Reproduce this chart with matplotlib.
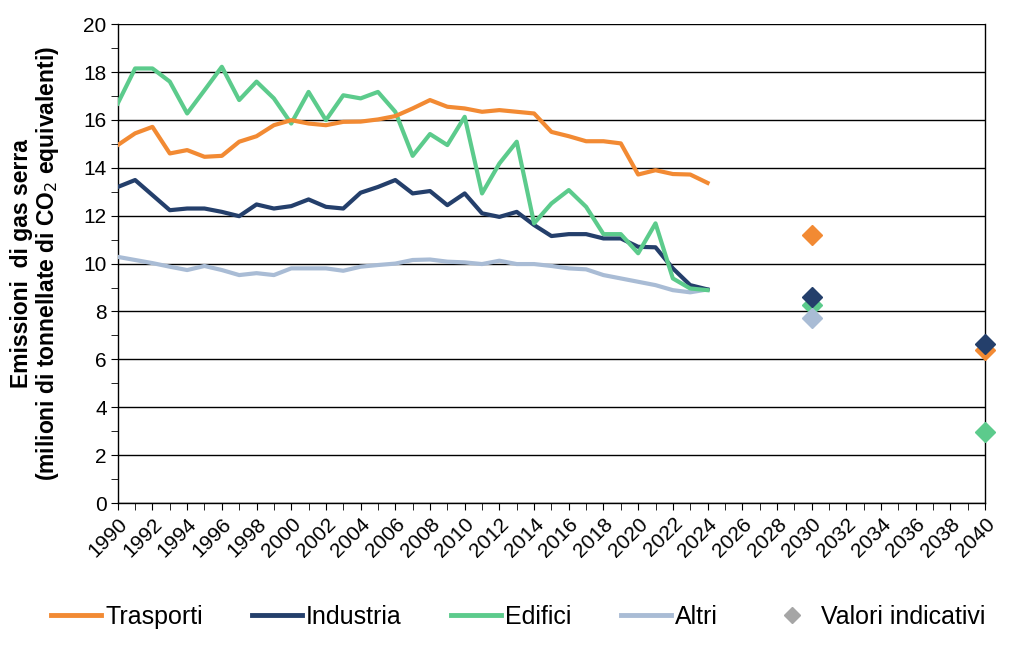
import matplotlib
matplotlib.use("Agg")
import matplotlib.pyplot as plt
from matplotlib.ticker import MultipleLocator
from matplotlib.lines import Line2D

plt.rcParams['font.family'] = ['Liberation Sans', 'DejaVu Sans']

years = list(range(1990, 2025))
trasporti = [14.95, 15.44, 15.71, 14.60, 14.74, 14.46, 14.50, 15.09, 15.32, 15.78,
             15.99, 15.85, 15.78, 15.92, 15.93, 16.02, 16.16, 16.48, 16.83, 16.55,
             16.48, 16.34, 16.41, 16.34, 16.27, 15.50, 15.32, 15.11, 15.11, 15.02,
             13.72, 13.90, 13.74, 13.72, 13.37]
industria = [13.20, 13.49, 12.86, 12.23, 12.30, 12.30, 12.16, 11.98, 12.47, 12.30,
             12.40, 12.68, 12.37, 12.30, 12.96, 13.20, 13.49, 12.93, 13.03, 12.44,
             12.93, 12.10, 11.95, 12.16, 11.61, 11.15, 11.23, 11.23, 11.05, 11.05,
             10.70, 10.68, 9.80, 9.10, 8.92]
edifici = [16.69, 18.15, 18.15, 17.60, 16.27, 17.24, 18.22, 16.83, 17.60, 16.90,
           15.85, 17.17, 15.99, 17.03, 16.90, 17.17, 16.34, 14.50, 15.41, 14.95,
           16.13, 12.93, 14.18, 15.09, 11.68, 12.51, 13.07, 12.37, 11.23, 11.23,
           10.43, 11.68, 9.38, 8.96, 8.89]
altri = [10.28, 10.15, 10.02, 9.87, 9.73, 9.90, 9.73, 9.52, 9.60, 9.52,
         9.80, 9.80, 9.80, 9.70, 9.87, 9.94, 10.00, 10.15, 10.17, 10.08,
         10.05, 9.98, 10.12, 9.98, 9.98, 9.90, 9.80, 9.76, 9.52, 9.38,
         9.24, 9.10, 8.89, 8.80, 8.92]

target_years = [2030, 2040]
trasporti_t = [11.19, 6.38]
industria_t = [8.61, 6.64]
edifici_t = [8.27, 2.98]
altri_t = [7.71, None]

c_tr = '#F28A33'
c_in = '#243F6B'
c_ed = '#5CCB8C'
c_al = '#A9BCD5'
c_gray = '#A6A6A6'

fig = plt.figure(figsize=(10.24, 6.53), dpi=100)
ax = fig.add_axes([0.115, 0.2297, 0.847, 0.7333])

lw = 3.0
ax.plot(years, altri, color=c_al, lw=lw, zorder=3)
ax.plot(years, industria, color=c_in, lw=lw, zorder=4)
ax.plot(years, edifici, color=c_ed, lw=lw, zorder=5)
ax.plot(years, trasporti, color=c_tr, lw=lw, zorder=6)

def diam(vals, color, z):
    xs = [y for y, v in zip(target_years, vals) if v is not None]
    vs = [v for v in vals if v is not None]
    ax.plot(xs, vs, linestyle='none', marker='D', markersize=10,
            color=color, zorder=z, clip_on=False)

diam(trasporti_t, c_tr, 7)
diam(edifici_t, c_ed, 8)
diam(altri_t, c_al, 9)
diam(industria_t, c_in, 10)

ax.set_xlim(1990, 2040)
ax.set_ylim(0, 20)
ax.xaxis.set_major_locator(MultipleLocator(2))
ax.xaxis.set_minor_locator(MultipleLocator(1))
ax.yaxis.set_major_locator(MultipleLocator(2))
ax.yaxis.set_minor_locator(MultipleLocator(1))
ax.grid(axis='y', which='major', color='black', lw=1.0, zorder=1)
ax.set_axisbelow(True)
for s in ['left', 'bottom', 'right', 'top']:
    ax.spines[s].set_color('black')
    ax.spines[s].set_linewidth(1.0)
ax.spines['top'].set_visible(False)

ax.tick_params(axis='both', which='both', direction='out', color='black')
ax.tick_params(axis='both', which='major', length=5, labelsize=15, pad=3)
ax.tick_params(axis='both', which='minor', length=5)
ax.tick_params(axis='x', labelsize=15)
for lab in ax.get_xticklabels():
    lab.set_rotation(45)
    lab.set_ha('right')
    lab.set_rotation_mode('anchor')

ax.set_ylabel('Emissioni  di gas serra\n(milioni di tonnellate di CO$_2$ equivalenti)',
              fontsize=16.5, fontweight='bold', labelpad=16, linespacing=1.05)

handles = [
    Line2D([], [], color=c_tr, lw=3.5),
    Line2D([], [], color=c_in, lw=3.5),
    Line2D([], [], color=c_ed, lw=3.5),
    Line2D([], [], color=c_al, lw=3.5),
    Line2D([], [], color=c_gray, lw=0, marker='D', markersize=8),
]
labels = ['Trasporti', 'Industria', 'Edifici', 'Altri', 'Valori indicativi']
fig.legend(handles, labels, loc='center', bbox_to_anchor=(0.506, 0.055), ncol=5,
           frameon=False, fontsize=18, handlelength=2.0, handletextpad=0.15,
           columnspacing=1.98)

fig.savefig('out.png', dpi=100)
